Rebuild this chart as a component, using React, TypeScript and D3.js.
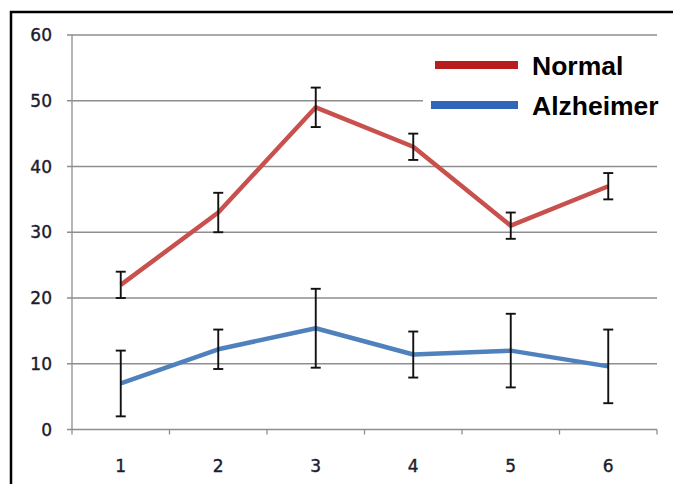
import React from 'react';
import * as d3 from 'd3';

const categories = ['1', '2', '3', '4', '5', '6'];
const normalValues = [22, 33, 49, 43, 31, 37];
const normalErrors = [2, 3, 3, 2, 2, 2];
const alzheimerValues = [7, 12.2, 15.4, 11.4, 12, 9.6];
const alzheimerErrors = [5, 3, 6, 3.5, 5.6, 5.6];
const yTicks = [0, 10, 20, 30, 40, 50, 60];

const seriesList = [
    { name: 'Normal', values: normalValues, errors: normalErrors, color: '#c8504d', legendColor: '#b81c1c' },
    { name: 'Alzheimer', values: alzheimerValues, errors: alzheimerErrors, color: '#4f81bd', legendColor: '#2f66b8' },
];

const W = 673;
const H = 484;
const left = 72;
const right = 657;
const top = 35;
const bottom = 429.5;

const App = () => {
    const x = d3.scaleBand().domain(categories).range([left, right]);
    const y = d3.scaleLinear().domain([0, 60]).range([bottom, top]);
    const cx = (c: string) => (x(c) as number) + x.bandwidth() / 2;

    const line = d3.line<number>()
        .x((_, i) => cx(categories[i]))
        .y(d => y(d));

    const boundaries = categories.map(c => x(c) as number).concat([right]);
    const gridColor = '#8e8e8e';
    const capW = 5;
    const labelStyle = { fontFamily: 'DejaVu Sans', fontSize: 17, fill: '#1c1c2c', stroke: '#1c1c2c', strokeWidth: 0.4 };

    return (
        <svg width={W} height={H} style={{ position: 'absolute', left: 0, top: 0, background: '#fff' }}>
            <rect x={0} y={0} width={W} height={H} fill="#fff" />
            {/* frame */}
            <path d={`M11,${H} L11,12 L${W},12`} fill="none" stroke="#000" strokeWidth={2.5} />

            {/* gridlines */}
            {yTicks.map(t => (
                <line key={t} x1={left - 5} x2={right} y1={y(t)} y2={y(t)} stroke={gridColor} strokeWidth={1.3} />
            ))}
            <line x1={left} x2={left} y1={top} y2={bottom} stroke={gridColor} strokeWidth={1.3} />
            {boundaries.map((b, i) => (
                <line key={i} x1={b} x2={b} y1={bottom} y2={bottom + 5} stroke={gridColor} strokeWidth={1.3} />
            ))}

            {/* y labels */}
            {yTicks.map(t => (
                <text key={t} x={52} y={y(t)} dy="0.36em" textAnchor="end" style={labelStyle}>{t}</text>
            ))}
            {/* x labels */}
            {categories.map(c => (
                <text key={c} x={cx(c)} y={472} textAnchor="middle" style={labelStyle}>{c}</text>
            ))}

            {/* legend background */}
            <rect x={423} y={44} width={245} height={80} fill="#fff" />

            {/* series */}
            {seriesList.map(s => (
                <g key={s.name}>
                    <path d={line(s.values) || ''} fill="none" stroke={s.color} strokeWidth={4.5} strokeLinejoin="round" />
                    {s.values.map((v, i) => {
                        const px = cx(categories[i]);
                        const y1 = y(v + s.errors[i]);
                        const y2 = y(v - s.errors[i]);
                        return (
                            <g key={i} stroke="#111" strokeWidth={1.9}>
                                <line x1={px} x2={px} y1={y1} y2={y2} />
                                <line x1={px - capW} x2={px + capW} y1={y1} y2={y1} />
                                <line x1={px - capW} x2={px + capW} y1={y2} y2={y2} />
                            </g>
                        );
                    })}
                </g>
            ))}

            {/* legend */}
            {seriesList.map((s, i) => (
                <g key={s.name} transform={`translate(0, ${65 + i * 40})`}>
                    <line x1={i === 0 ? 435 : 431} x2={518} y1={0} y2={0} stroke={s.legendColor} strokeWidth={8} />
                    <text x={532} y={0} dy="0.36em"
                        style={{ fontFamily: 'Liberation Sans', fontWeight: 'bold', fontSize: 26.5, fill: '#000' }}>{s.name}</text>
                </g>
            ))}
        </svg>
    );
};

export default App;
